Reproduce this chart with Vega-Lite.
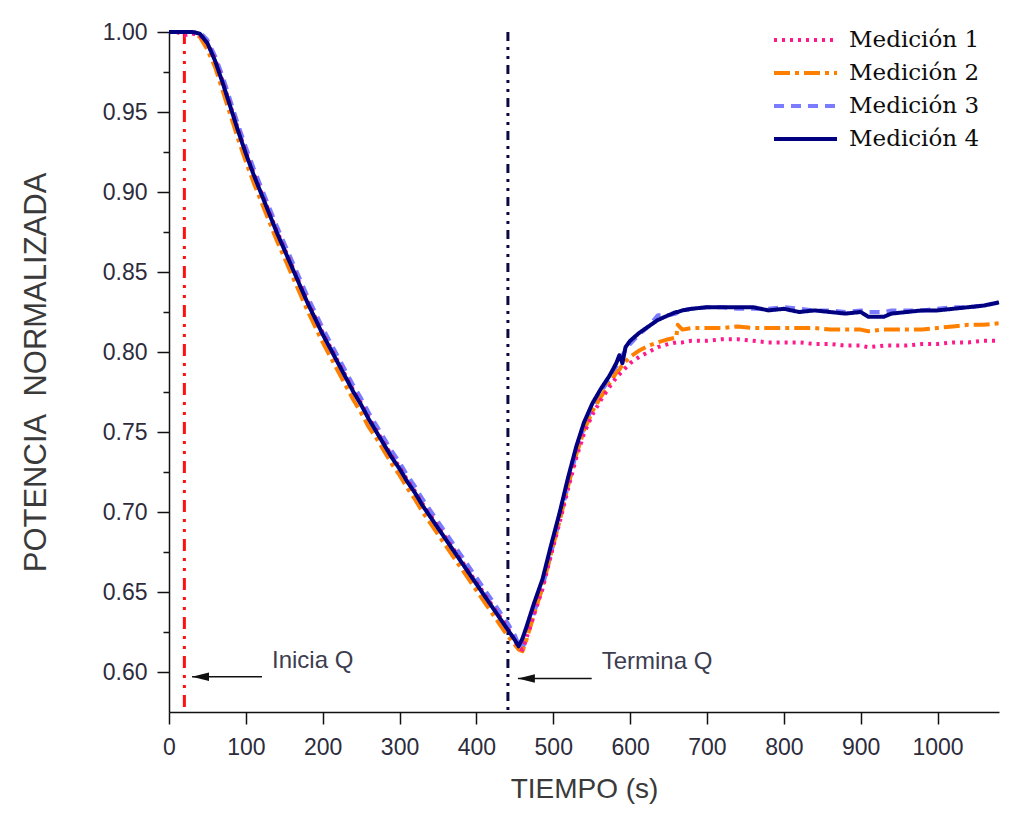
{
  "$schema": "https://vega.github.io/schema/vega-lite/v6.json",
  "width": 830,
  "height": 680,
  "autosize": {"type": "none"},
  "padding": {"left": 169, "top": 32, "right": 11, "bottom": 101},
  "background": "#ffffff",
  "config": {
    "view": {"stroke": null},
    "axis": {
      "grid": false,
      "domainColor": "#111111",
      "domainWidth": 1.5,
      "tickColor": "#111111",
      "tickWidth": 1.5,
      "labelFont": "Liberation Sans",
      "labelFontSize": 23,
      "labelColor": "#2c2c3c",
      "titleFont": "Liberation Sans",
      "titleFontWeight": "normal",
      "titleColor": "#3a3a3a",
      "labelOverlap": false,
      "labelFlush": false
    },
    "legend": {
      "orient": "none",
      "legendX": 603,
      "legendY": -7,
      "symbolType": "stroke",
      "symbolSize": 3969,
      "clipHeight": 30,
      "rowPadding": 3,
      "labelOffset": 10,
      "labelFont": "DejaVu Serif",
      "labelFontSize": 23,
      "labelColor": "#0d0d0d",
      "padding": 0
    }
  },
  "datasets": {
    "curvas": [
      {"t": 0, "m1": 1.000, "m2": 1.000, "m3": 1.000, "m4": 1.000},
      {"t": 10, "m1": 1.000, "m2": 1.000, "m3": 1.000, "m4": 1.000},
      {"t": 20, "m1": 0.998, "m2": 1.000, "m3": 1.000, "m4": 1.000},
      {"t": 30, "m1": 0.999, "m2": 1.000, "m3": 1.000, "m4": 1.000},
      {"t": 40, "m1": 0.998, "m2": 0.997, "m3": 1.000, "m4": 0.999},
      {"t": 50, "m1": 0.993, "m2": 0.989, "m3": 0.995, "m4": 0.993},
      {"t": 60, "m1": 0.983, "m2": 0.978, "m3": 0.985, "m4": 0.982},
      {"t": 70, "m1": 0.969, "m2": 0.963, "m3": 0.972, "m4": 0.968},
      {"t": 80, "m1": 0.954, "m2": 0.948, "m3": 0.957, "m4": 0.953},
      {"t": 90, "m1": 0.939, "m2": 0.933, "m3": 0.942, "m4": 0.938},
      {"t": 100, "m1": 0.925, "m2": 0.919, "m3": 0.928, "m4": 0.924},
      {"t": 110, "m1": 0.912, "m2": 0.906, "m3": 0.915, "m4": 0.911},
      {"t": 120, "m1": 0.900, "m2": 0.894, "m3": 0.903, "m4": 0.899},
      {"t": 130, "m1": 0.888, "m2": 0.882, "m3": 0.891, "m4": 0.887},
      {"t": 140, "m1": 0.876, "m2": 0.870, "m3": 0.879, "m4": 0.875},
      {"t": 150, "m1": 0.865, "m2": 0.859, "m3": 0.868, "m4": 0.864},
      {"t": 160, "m1": 0.854, "m2": 0.848, "m3": 0.857, "m4": 0.853},
      {"t": 170, "m1": 0.843, "m2": 0.837, "m3": 0.846, "m4": 0.842},
      {"t": 180, "m1": 0.832, "m2": 0.826, "m3": 0.835, "m4": 0.831},
      {"t": 190, "m1": 0.822, "m2": 0.816, "m3": 0.825, "m4": 0.821},
      {"t": 200, "m1": 0.812, "m2": 0.806, "m3": 0.815, "m4": 0.811},
      {"t": 210, "m1": 0.803, "m2": 0.797, "m3": 0.806, "m4": 0.802},
      {"t": 220, "m1": 0.794, "m2": 0.788, "m3": 0.797, "m4": 0.793},
      {"t": 230, "m1": 0.785, "m2": 0.779, "m3": 0.788, "m4": 0.784},
      {"t": 240, "m1": 0.776, "m2": 0.770, "m3": 0.779, "m4": 0.775},
      {"t": 250, "m1": 0.768, "m2": 0.762, "m3": 0.771, "m4": 0.767},
      {"t": 260, "m1": 0.759, "m2": 0.753, "m3": 0.762, "m4": 0.758},
      {"t": 270, "m1": 0.751, "m2": 0.746, "m3": 0.754, "m4": 0.750},
      {"t": 280, "m1": 0.743, "m2": 0.738, "m3": 0.746, "m4": 0.742},
      {"t": 290, "m1": 0.735, "m2": 0.730, "m3": 0.738, "m4": 0.734},
      {"t": 300, "m1": 0.728, "m2": 0.723, "m3": 0.731, "m4": 0.727},
      {"t": 310, "m1": 0.720, "m2": 0.715, "m3": 0.723, "m4": 0.719},
      {"t": 320, "m1": 0.713, "m2": 0.708, "m3": 0.716, "m4": 0.712},
      {"t": 330, "m1": 0.705, "m2": 0.700, "m3": 0.708, "m4": 0.704},
      {"t": 340, "m1": 0.698, "m2": 0.693, "m3": 0.701, "m4": 0.697},
      {"t": 350, "m1": 0.691, "m2": 0.686, "m3": 0.694, "m4": 0.690},
      {"t": 360, "m1": 0.684, "m2": 0.679, "m3": 0.687, "m4": 0.683},
      {"t": 370, "m1": 0.677, "m2": 0.672, "m3": 0.680, "m4": 0.676},
      {"t": 380, "m1": 0.670, "m2": 0.665, "m3": 0.673, "m4": 0.669},
      {"t": 390, "m1": 0.663, "m2": 0.658, "m3": 0.666, "m4": 0.662},
      {"t": 400, "m1": 0.656, "m2": 0.651, "m3": 0.659, "m4": 0.655},
      {"t": 410, "m1": 0.649, "m2": 0.644, "m3": 0.652, "m4": 0.648},
      {"t": 420, "m1": 0.642, "m2": 0.637, "m3": 0.645, "m4": 0.641},
      {"t": 430, "m1": 0.635, "m2": 0.630, "m3": 0.638, "m4": 0.634},
      {"t": 440, "m1": 0.628, "m2": 0.623, "m3": 0.631, "m4": 0.627},
      {"t": 450, "m1": 0.620, "m2": 0.617, "m3": 0.623, "m4": 0.620},
      {"t": 455, "m1": 0.615, "m2": 0.614, "m3": 0.617, "m4": 0.616},
      {"t": 460, "m1": 0.614, "m2": 0.613, "m3": 0.615, "m4": 0.621},
      {"t": 465, "m1": 0.621, "m2": 0.620, "m3": 0.621, "m4": 0.628},
      {"t": 475, "m1": 0.636, "m2": 0.636, "m3": 0.637, "m4": 0.643},
      {"t": 486, "m1": 0.652, "m2": 0.653, "m3": 0.653, "m4": 0.658},
      {"t": 497, "m1": 0.673, "m2": 0.674, "m3": 0.674, "m4": 0.679},
      {"t": 508, "m1": 0.693, "m2": 0.694, "m3": 0.695, "m4": 0.699},
      {"t": 519, "m1": 0.714, "m2": 0.716, "m3": 0.716, "m4": 0.721},
      {"t": 530, "m1": 0.734, "m2": 0.736, "m3": 0.737, "m4": 0.741},
      {"t": 540, "m1": 0.749, "m2": 0.751, "m3": 0.753, "m4": 0.756},
      {"t": 551, "m1": 0.761, "m2": 0.763, "m3": 0.766, "m4": 0.768},
      {"t": 562, "m1": 0.770, "m2": 0.772, "m3": 0.775, "m4": 0.777},
      {"t": 573, "m1": 0.778, "m2": 0.780, "m3": 0.783, "m4": 0.785},
      {"t": 582, "m1": 0.784, "m2": 0.787, "m3": 0.791, "m4": 0.793},
      {"t": 586, "m1": 0.786, "m2": 0.789, "m3": 0.795, "m4": 0.798},
      {"t": 590, "m1": 0.788, "m2": 0.792, "m3": 0.798, "m4": 0.793},
      {"t": 594, "m1": 0.790, "m2": 0.794, "m3": 0.801, "m4": 0.803},
      {"t": 600, "m1": 0.793, "m2": 0.797, "m3": 0.805, "m4": 0.807},
      {"t": 612, "m1": 0.797, "m2": 0.801, "m3": 0.811, "m4": 0.812},
      {"t": 624, "m1": 0.800, "m2": 0.804, "m3": 0.816, "m4": 0.816},
      {"t": 636, "m1": 0.803, "m2": 0.806, "m3": 0.823, "m4": 0.820},
      {"t": 650, "m1": 0.805, "m2": 0.808, "m3": 0.823, "m4": 0.823},
      {"t": 660, "m1": 0.806, "m2": 0.809, "m3": 0.824, "m4": 0.825},
      {"t": 662, "m1": 0.806, "m2": 0.817, "m3": 0.825, "m4": 0.825},
      {"t": 668, "m1": 0.806, "m2": 0.814, "m3": 0.826, "m4": 0.826},
      {"t": 680, "m1": 0.807, "m2": 0.815, "m3": 0.827, "m4": 0.827},
      {"t": 700, "m1": 0.807, "m2": 0.815, "m3": 0.828, "m4": 0.828},
      {"t": 720, "m1": 0.808, "m2": 0.815, "m3": 0.828, "m4": 0.828},
      {"t": 740, "m1": 0.808, "m2": 0.816, "m3": 0.827, "m4": 0.828},
      {"t": 760, "m1": 0.807, "m2": 0.815, "m3": 0.827, "m4": 0.828},
      {"t": 780, "m1": 0.806, "m2": 0.815, "m3": 0.827, "m4": 0.826},
      {"t": 800, "m1": 0.806, "m2": 0.815, "m3": 0.828, "m4": 0.827},
      {"t": 820, "m1": 0.806, "m2": 0.815, "m3": 0.827, "m4": 0.825},
      {"t": 840, "m1": 0.805, "m2": 0.815, "m3": 0.826, "m4": 0.826},
      {"t": 860, "m1": 0.805, "m2": 0.814, "m3": 0.826, "m4": 0.825},
      {"t": 880, "m1": 0.804, "m2": 0.814, "m3": 0.825, "m4": 0.824},
      {"t": 900, "m1": 0.804, "m2": 0.814, "m3": 0.826, "m4": 0.825},
      {"t": 910, "m1": 0.803, "m2": 0.813, "m3": 0.825, "m4": 0.822},
      {"t": 930, "m1": 0.804, "m2": 0.814, "m3": 0.825, "m4": 0.822},
      {"t": 940, "m1": 0.804, "m2": 0.814, "m3": 0.826, "m4": 0.824},
      {"t": 960, "m1": 0.804, "m2": 0.814, "m3": 0.826, "m4": 0.825},
      {"t": 980, "m1": 0.805, "m2": 0.814, "m3": 0.826, "m4": 0.826},
      {"t": 1000, "m1": 0.805, "m2": 0.815, "m3": 0.827, "m4": 0.826},
      {"t": 1020, "m1": 0.806, "m2": 0.816, "m3": 0.828, "m4": 0.827},
      {"t": 1040, "m1": 0.806, "m2": 0.817, "m3": 0.828, "m4": 0.828},
      {"t": 1060, "m1": 0.807, "m2": 0.817, "m3": 0.829, "m4": 0.829},
      {"t": 1080, "m1": 0.807, "m2": 0.818, "m3": 0.831, "m4": 0.831}
    ],
    "marcas": [
      {"t": 20, "evento": "inicio"},
      {"t": 441, "evento": "fin"}
    ],
    "notas": [
      {"x1": 30, "x2": 121, "v": 0.597, "punta": 41, "tx": 134, "ty": 0.6025, "texto": "Inicia Q"},
      {"x1": 454, "x2": 550, "v": 0.596, "punta": 465, "tx": 563, "ty": 0.602, "texto": "Termina Q"}
    ]
  },
  "layer": [
    {
      "data": {"name": "marcas"},
      "transform": [{"filter": "datum.evento === 'inicio'"}],
      "mark": {"type": "rule", "color": "#ff1010", "strokeWidth": 3, "strokeDash": [12, 7, 3, 7, 3, 7]},
      "encoding": {"x": {"field": "t", "type": "quantitative"}}
    },
    {
      "data": {"name": "marcas"},
      "transform": [{"filter": "datum.evento === 'fin'"}],
      "mark": {"type": "rule", "color": "#0a0a40", "strokeWidth": 3, "strokeDash": [9, 6, 3, 6, 3, 6]},
      "encoding": {"x": {"field": "t", "type": "quantitative"}}
    },
    {
      "data": {"name": "curvas"},
      "transform": [{"fold": ["m3", "m2", "m1", "m4"], "as": ["serie", "v"]}],
      "mark": {"type": "line", "strokeJoin": "round"},
      "encoding": {
        "x": {
          "field": "t",
          "type": "quantitative",
          "scale": {"domain": [0, 1080], "nice": false, "zero": false},
          "axis": {
            "title": "TIEMPO (s)",
            "titleFontSize": 28,
            "titlePadding": 16,
            "values": [0, 50, 100, 150, 200, 250, 300, 350, 400, 450, 500, 550, 600, 650, 700, 750, 800, 850, 900, 950, 1000, 1050],
            "format": "d",
            "labelExpr": "datum.value % 100 === 0 ? datum.label : ''",
            "tickSize": {"condition": {"test": "datum.value % 100 === 0", "value": 12}, "value": 6},
            "labelPadding": 12
          }
        },
        "y": {
          "field": "v",
          "type": "quantitative",
          "scale": {"domain": [0.575, 1.0], "nice": false, "zero": false},
          "axis": {
            "title": "POTENCIA\u00a0 NORMALIZADA",
            "titleFontSize": 31,
            "titlePadding": 50,
            "values": [0.6, 0.625, 0.65, 0.675, 0.7, 0.725, 0.75, 0.775, 0.8, 0.825, 0.85, 0.875, 0.9, 0.925, 0.95, 0.975, 1.0],
            "format": ".2f",
            "labelExpr": "round(datum.value * 1000) % 50 === 0 ? datum.label : ''",
            "tickSize": {"condition": {"test": "round(datum.value * 1000) % 50 === 0", "value": 12}, "value": 6},
            "labelPadding": 10
          }
        },
        "color": {
          "field": "serie",
          "type": "nominal",
          "title": null,
          "scale": {"domain": ["m1", "m2", "m3", "m4"], "range": ["#ff1a8c", "#ff8000", "#7b7bff", "#000080"]},
          "legend": {"labelExpr": "'Medición ' + substring(datum.label, 1)"}
        },
        "strokeDash": {
          "field": "serie",
          "type": "nominal",
          "title": null,
          "scale": {"domain": ["m1", "m2", "m3", "m4"], "range": [[3, 5], [16, 5, 4, 5], [10, 7], [1, 0]]},
          "legend": {"labelExpr": "'Medición ' + substring(datum.label, 1)"}
        },
        "strokeWidth": {
          "field": "serie",
          "type": "ordinal",
          "title": null,
          "scale": {"domain": ["m1", "m2", "m3", "m4"], "range": [4, 4, 5, 3]},
          "legend": {"labelExpr": "'Medición ' + substring(datum.label, 1)"}
        }
      }
    },
    {
      "data": {"name": "notas"},
      "mark": {"type": "rule", "color": "#111111", "strokeWidth": 1.5},
      "encoding": {
        "x": {"field": "x1", "type": "quantitative"},
        "x2": {"field": "x2"},
        "y": {"field": "v", "type": "quantitative"}
      }
    },
    {
      "data": {"name": "notas"},
      "mark": {"type": "point", "shape": "M-1,0L1,-0.5L1,0.5Z", "filled": true, "color": "#111111", "opacity": 1, "size": 289},
      "encoding": {
        "x": {"field": "punta", "type": "quantitative"},
        "y": {"field": "v", "type": "quantitative"}
      }
    },
    {
      "data": {"name": "notas"},
      "mark": {"type": "text", "align": "left", "baseline": "alphabetic", "font": "Liberation Sans", "fontSize": 24, "color": "#3d3d50"},
      "encoding": {
        "x": {"field": "tx", "type": "quantitative"},
        "y": {"field": "ty", "type": "quantitative"},
        "text": {"field": "texto"}
      }
    }
  ]
}
